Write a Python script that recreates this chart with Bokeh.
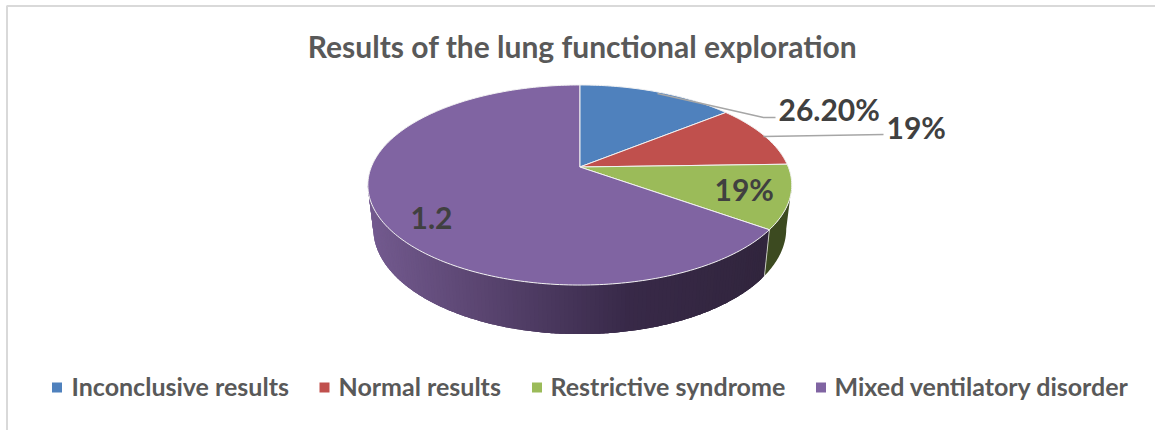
from math import pi, sin, cos, acos
from bokeh.plotting import figure
from bokeh.models import Range1d
from bokeh.core.properties import value
from bokeh.embed import file_html
from bokeh.resources import INLINE

categories = ["Inconclusive results", "Normal results", "Restrictive syndrome", "Mixed ventilatory disorder"]
values = [0.262, 0.19, 0.19, 1.2]
data_labels = ["26.20%", "19%", "19%", "1.2"]
title = "Results of the lung functional exploration"

top_colors = ["#4f81bd", "#c0504d", "#9bbb59", "#8064a2"]
GREEN_SIDE = "#3c4a20"
PURPLE_STOPS = [(367, (116, 91, 144)), (500, (88, 67, 110)), (640, (56, 41, 72)), (770, (49, 37, 61))]
FONT = value("Lato")

# perspective model of the pie disc
CX, CY, A, B, K = 579.3, 166.5, 208.5, 96.8, 0.18
DROP, DROP_SLOPE, SHRINK = 42.7, 0.054, 0.974


def top_pt(t):
    d = 1 + K * cos(t)
    return CX + A * sin(t) / d, CY - B * cos(t) / d


def bot_pt(t):
    x, y = top_pt(t)
    return CX + SHRINK * (x - CX), y + DROP + DROP_SLOPE * (y - CY)


def arc(t0, t1, step=pi / 180):
    n = max(2, int(abs(t1 - t0) / step) + 1)
    return [t0 + (t1 - t0) * i / (n - 1) for i in range(n)]


def purple_at(x):
    s = PURPLE_STOPS
    if x <= s[0][0]:
        c = s[0][1]
    elif x >= s[-1][0]:
        c = s[-1][1]
    else:
        for (a, ca), (b, cb) in zip(s, s[1:]):
            if a <= x <= b:
                f = (x - a) / (b - a)
                c = tuple(ca[i] + (cb[i] - ca[i]) * f for i in range(3))
                break
    return "#%02x%02x%02x" % tuple(int(round(v)) for v in c)


total = sum(values)
edges = [0.0]
for v in values:
    edges.append(edges[-1] + 2 * pi * v / total)

p = figure(width=1155, height=430, x_range=Range1d(0, 1155), y_range=Range1d(430, 0),
           output_backend="svg", toolbar_location=None, min_border=0,
           outline_line_color=None, background_fill_color="white")
p.axis.visible = False
p.grid.visible = False

# chart frame
p.line([6.5, 6.5, 1155], [430, 5.5, 5.5], line_color="#d9d9d9", line_width=2)

# side wall
t_right = acos(-K)
t_left = 2 * pi - t_right
ts = arc(t_right, edges[3])
sx = [top_pt(t)[0] for t in ts] + [bot_pt(t)[0] for t in reversed(ts)]
sy = [top_pt(t)[1] for t in ts] + [bot_pt(t)[1] for t in reversed(ts)]
p.patch(sx, sy, fill_color=GREEN_SIDE, line_color=None)

# each band runs on under the next one, painted from right to left, so no seams show
ts = arc(edges[3], t_left)
xs, ys, cols = [], [], []
for i in range(len(ts) - 1):
    a, b = ts[i], ts[min(i + 3, len(ts) - 1)]
    c = arc(a, b, pi / 360)
    xs.append([top_pt(t)[0] for t in c] + [bot_pt(t)[0] for t in reversed(c)])
    ys.append([top_pt(t)[1] for t in c] + [bot_pt(t)[1] for t in reversed(c)])
    cols.append(purple_at(top_pt(a)[0]))
xs.reverse(); ys.reverse(); cols.reverse()
p.patches(xs, ys, fill_color=cols, line_color=None)
seam_top, seam_bot = top_pt(edges[3]), bot_pt(edges[3])
p.line([seam_top[0], seam_bot[0]], [seam_top[1], seam_bot[1]], line_color="#dfe3d6", line_width=0.8)

# top face
xs, ys = [], []
for t0, t1 in zip(edges, edges[1:]):
    pts = [top_pt(t) for t in arc(t0, t1)]
    xs.append([CX] + [q[0] for q in pts])
    ys.append([CY] + [q[1] for q in pts])
p.patches(xs, ys, fill_color=top_colors, line_color="#f2f2f2", line_width=1)

# leader lines
p.line([657, 763, 775], [93, 117, 117], line_color="#a6a6a6", line_width=1.5)
p.line([763, 883], [136, 134], line_color="#a6a6a6", line_width=1.5)

# data labels
p.text([778, 886, 714, 410], [108, 126, 188, 217], text=data_labels, text_font=FONT,
       text_font_style="bold", text_font_size="30px", text_color="#404040",
       text_align="left", text_baseline="middle")

# title
p.text([582], [45], text=[title], text_font=FONT, text_font_style="bold", text_font_size="30px",
       text_color="#595959", text_align="center", text_baseline="middle")

# legend
p.scatter([56.5, 324, 536.5, 820.5], [387] * 4, marker="square", size=10,
          fill_color=top_colors, line_color=None)
p.text([71, 338, 550, 834], [385] * 4, text=categories, text_font=FONT, text_font_style="bold",
       text_font_size="25px", text_color="#595959", text_align="left", text_baseline="middle")

open("out.html", "w").write(file_html(p, INLINE))
